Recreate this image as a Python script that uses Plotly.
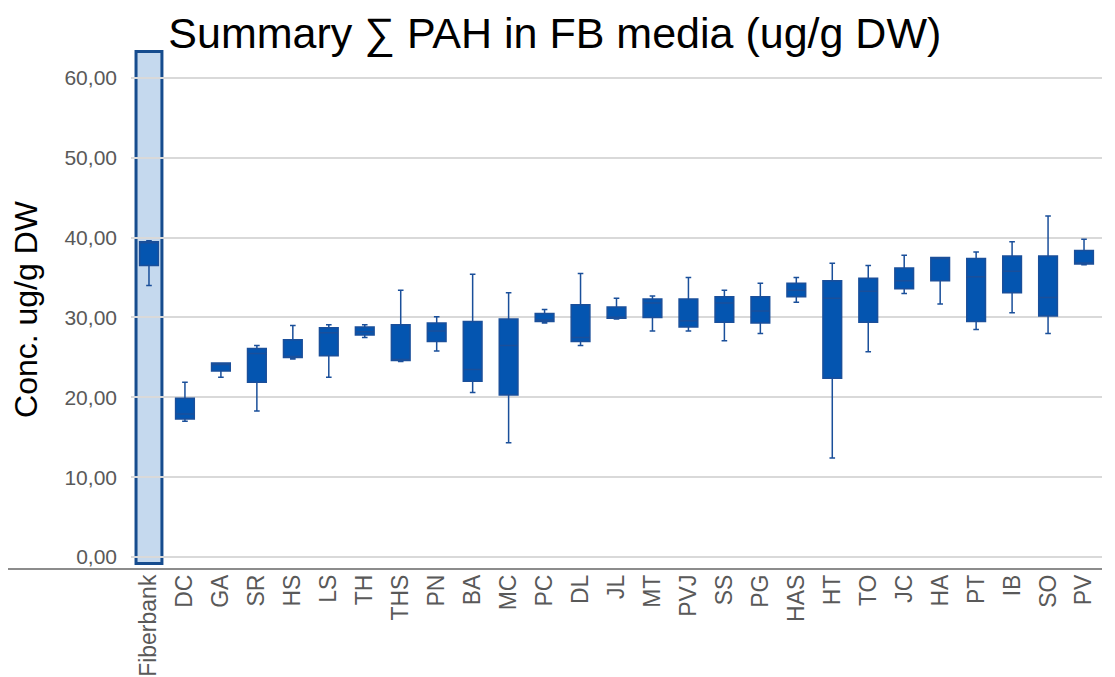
import plotly.graph_objects as go

categories = ["Fiberbank", "DC", "GA", "SR", "HS", "LS", "TH", "THS", "PN", "BA", "MC", "PC", "DL",
              "JL", "MT", "PVJ", "SS", "PG", "HAS", "HT", "TO", "JC", "HA", "PT", "IB", "SO", "PV"]
lower_whisker = [34.0, 17.0, 22.5, 18.3, 24.8, 22.5, 27.5, 24.5, 25.8, 20.6, 14.3, 29.3, 26.5,
                 29.8, 28.3, 28.3, 27.1, 28.0, 31.9, 12.4, 25.7, 33.0, 31.7, 28.5, 30.6, 28.0, 36.6]
q1 = [36.5, 17.3, 23.3, 21.9, 25.0, 25.2, 27.8, 24.6, 27.0, 22.0, 20.3, 29.5, 27.0,
      29.9, 30.0, 28.8, 29.4, 29.3, 32.6, 22.4, 29.4, 33.6, 34.6, 29.5, 33.1, 30.2, 36.7]
median = [39.4, 17.9, 24.1, 25.5, 25.1, 28.1, 28.2, 24.7, 28.3, 23.5, 26.5, 29.7, 27.5,
          30.0, 31.8, 29.6, 31.8, 30.8, 33.4, 32.4, 33.3, 34.6, 37.4, 35.1, 35.8, 32.5, 36.8]
q3 = [39.5, 19.9, 24.3, 26.1, 27.2, 28.7, 28.8, 29.1, 29.3, 29.5, 29.8, 30.5, 31.6,
      31.3, 32.3, 32.3, 32.6, 32.6, 34.3, 34.6, 34.9, 36.2, 37.5, 37.4, 37.7, 37.7, 38.4]
upper_whisker = [39.6, 21.9, 24.3, 26.5, 29.0, 29.1, 29.1, 33.4, 30.1, 35.4, 33.1, 31.0, 35.5,
                 32.4, 32.7, 35.0, 33.4, 34.3, 35.0, 36.8, 36.5, 37.8, 37.5, 38.2, 39.5, 42.7, 39.8]

fig = go.Figure()
fig.add_trace(go.Box(
    x=categories,
    q1=q1, median=median, q3=q3,
    lowerfence=lower_whisker, upperfence=upper_whisker,
    fillcolor="#0455B0",
    line=dict(color="#1A4F9A", width=1.5),
    width=0.52,
    whiskerwidth=0.3,
    boxpoints=False,
    showlegend=False,
    hoverinfo="y",
))

fig.add_shape(type="rect", xref="x", yref="y", x0=-0.36, x1=0.36, y0=-0.8, y1=63.3,
              fillcolor="#C5D9EE", line=dict(color="#164C8E", width=3), layer="below")
fig.add_shape(type="line", xref="paper", yref="paper", x0=-0.13, x1=1, y0=0, y1=0,
              line=dict(color="#666666", width=1.5))

fig.update_layout(
    width=1107, height=669,
    paper_bgcolor="white", plot_bgcolor="white",
    margin=dict(l=123, r=13, t=42, b=108, autoexpand=False),
    separators=",.",
    font=dict(family="Liberation Sans, Arial, sans-serif", color="#595959"),
    title=dict(text="Summary ∑ PAH in FB media (ug/g DW)", x=0.494, xanchor="center",
               y=0.985, yanchor="top",
               font=dict(size=43, color="#000000", family="Liberation Sans, Arial, sans-serif")),
    xaxis=dict(
        type="category", tickangle=-90, tickfont=dict(size=23, color="#595959"),
        showgrid=False, showline=False, zeroline=False, ticks="", automargin=False,
        range=[-0.5, len(categories) - 0.5],
    ),
    yaxis=dict(
        range=[-1.5, 63.5], tickvals=[0, 10, 20, 30, 40, 50, 60], tickformat=".2f",
        tickfont=dict(size=21, color="#595959"),
        ticklabelstandoff=13, automargin=True,
        showgrid=True, gridcolor="#D9D9D9", gridwidth=2,
        zeroline=False, showline=False, ticks="",
        title=dict(text="Conc. ug/g DW", font=dict(size=32, color="#000000"), standoff=30),
    ),
)

fig.write_html("out.html")
